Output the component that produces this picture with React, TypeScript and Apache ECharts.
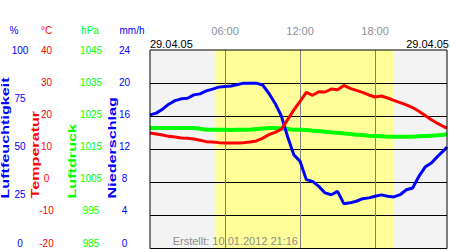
import React, { useEffect, useRef } from "react";
import * as echarts from "echarts";

// ---- data ----
const TIMES = [
  "00:00", "00:30", "01:00", "01:30", "02:00", "02:30", "03:00", "03:30",
  "04:00", "04:30", "05:00", "05:30", "06:00", "06:30", "07:00", "07:30",
  "08:00", "08:30", "09:00", "09:30", "10:00", "10:30", "11:00", "11:30",
  "12:00", "12:30", "13:00", "13:30", "14:00", "14:30", "15:00", "15:30",
  "16:00", "16:30", "17:00", "17:30", "18:00", "18:30", "19:00", "19:30",
  "20:00", "20:30", "21:00", "21:30", "22:00", "22:30", "23:00", "23:30",
  "23:45",
];

const HUMIDITY = [
  67.3, 68.2, 70.2, 72.7, 74.5, 75.4, 75.7, 77.4,
  77.9, 79.4, 80.3, 81.3, 81.6, 81.9, 82.6, 83.3,
  83.3, 83.3, 82.4, 78.2, 73.2, 66.8, 56.4, 47.2,
  43.9, 34.7, 33.8, 31.3, 28.0, 27.1, 28.8, 22.6,
  23.0, 23.8, 25.1, 25.5, 26.3, 27.0, 26.3, 26.0,
  27.1, 29.6, 30.5, 36.3, 41.0, 43.1, 46.4, 49.4,
  51.1,
];

const TEMPERATURE = [
  14.9, 14.6, 14.3, 13.9, 13.7, 13.4, 13.3, 13.1,
  12.7, 12.3, 12.2, 12.0, 11.9, 11.9, 11.9, 12.0,
  12.2, 12.5, 13.3, 14.4, 15.1, 16.1, 18.9, 21.9,
  24.5, 27.2, 26.3, 27.4, 27.3, 28.2, 28.0, 29.3,
  28.4, 27.8, 27.2, 26.4, 25.8, 26.1, 25.5, 24.8,
  24.1, 23.4, 22.6, 21.5, 20.2, 18.9, 17.8, 16.8,
  16.4,
];

const PRESSURE = [
  1021.4, 1021.4, 1021.4, 1021.4, 1021.4, 1021.4, 1021.4, 1021.4,
  1021.2, 1020.9, 1020.9, 1020.9, 1020.9, 1020.8, 1020.9, 1020.9,
  1020.9, 1021.1, 1021.3, 1021.4, 1021.4, 1021.3, 1021.1, 1020.9,
  1020.9, 1020.8, 1020.6, 1020.5, 1020.3, 1020.1, 1020.0, 1019.8,
  1019.6, 1019.4, 1019.3, 1019.1, 1019.0, 1018.9, 1018.8, 1018.8,
  1018.8, 1018.8, 1018.8, 1018.9, 1019.0, 1019.1, 1019.2, 1019.4,
  1019.5,
];

const TIME_LABELS = ["06:00", "12:00", "18:00"];
const DAY_START = "05:11";
const DAY_END = "19:32";
const X_END = "23:45";
const DATE_TEXT = "29.04.05";
const CREATED_TEXT = "Erstellt: 10.01.2012 21:16";

// axis ranges [min, max, interval]
const HUMIDITY_AXIS = [0, 100, 25];
const TEMPERATURE_AXIS = [-20, 40, 10];
const PRESSURE_AXIS = [985, 1045, 10];
const RAIN_AXIS = [0, 24, 4];

const UNITS = ["%", "°C", "hPa", "mm/h"];
const TITLES = ["Luftfeuchtigkeit", "Temperatur", "Luftdruck", "Niederschlag"];

// ---- helpers ----
const toHours = (t: string) => {
  const [h, m] = t.split(":").map(Number);
  return h + m / 60;
};
const pairs = (vals: number[]) => TIMES.map((t, i) => [toHours(t), vals[i]]);

const BLUE = "#0000ff";
const RED = "#ff0000";
const GREEN = "#00ff00";
const FONT = "'Liberation Sans', Arial, sans-serif";

const labelAxis = (range: number[], offset: number, color: string) => ({
  gridIndex: 1,
  type: "value",
  position: "left",
  offset,
  min: range[0],
  max: range[1],
  interval: range[2],
  axisLine: { show: false },
  axisTick: { show: false },
  splitLine: { show: false },
  axisLabel: {
    align: "center",
    margin: 0,
    color,
    fontSize: 10,
    fontFamily: FONT,
    formatter: (v: number) => String(v),
  },
});

const buildOption = () => {
  const gray = "#f3f3f3";
  const yellow = "#ffff99";
  const dayStart = toHours(DAY_START);
  const dayEnd = toHours(DAY_END);
  const xEnd = toHours(X_END);

  const unitX = [14, 46.5, 90, 132];
  const unitColors = [BLUE, RED, GREEN, BLUE];
  const titleX = [5.5, 35, 72.5, 112.5];
  const titleColors = [BLUE, RED, GREEN, BLUE];

  const graphic: any[] = [];
  UNITS.forEach((u, i) =>
    graphic.push({
      type: "text",
      x: unitX[i],
      y: 30,
      style: {
        text: u,
        fill: unitColors[i],
        fontSize: 10,
        fontFamily: FONT,
        align: "center",
        verticalAlign: "middle",
      },
    })
  );
  TITLES.forEach((t, i) =>
    graphic.push({
      type: "text",
      x: titleX[i],
      y: 198.5,
      rotation: Math.PI / 2,
      scaleX: 1.47,
      style: {
        text: t,
        fill: titleColors[i],
        fontSize: 11,
        fontWeight: "bold",
        fontFamily: FONT,
        align: "left",
        verticalAlign: "middle",
      },
    })
  );
  graphic.push(
    {
      type: "text",
      x: 150,
      y: 44,
      style: { text: DATE_TEXT, fill: "#000", fontSize: 11, fontFamily: FONT, align: "left", verticalAlign: "middle" },
    },
    {
      type: "text",
      x: 449,
      y: 44,
      style: { text: DATE_TEXT, fill: "#000", fontSize: 11, fontFamily: FONT, align: "right", verticalAlign: "middle" },
    },
    {
      type: "text",
      x: 298,
      y: 241,
      z: 10,
      style: { text: CREATED_TEXT, fill: "#8c8c8c", fontSize: 11, fontFamily: FONT, align: "right", verticalAlign: "middle" },
    }
  );

  return {
    animation: false,
    backgroundColor: "#ffffff",
    textStyle: { fontFamily: FONT },
    grid: [
      {
        left: 150,
        right: 1,
        top: 50,
        bottom: 1.5,
        show: true,
        backgroundColor: "transparent",
        borderColor: "#000",
        borderWidth: 1,
        z: 3,
      },
      { left: 150, right: 1, top: 50, bottom: 7, show: false },
    ],
    xAxis: [
      {
        gridIndex: 0,
        type: "value",
        position: "top",
        min: 0,
        max: xEnd,
        interval: 6,
        z: 1.5,
        axisLine: { show: false },
        axisTick: { show: false },
        axisLabel: {
          margin: 14,
          color: "#8a919b",
          fontSize: 11,
          fontFamily: FONT,
          formatter: (v: number) => {
            const s = String(Math.round(v)).padStart(2, "0") + ":00";
            return Math.abs(v - Math.round(v)) < 1e-6 && TIME_LABELS.includes(s) ? s : "";
          },
        },
        splitLine: {
          show: true,
          showMinLine: false,
          showMaxLine: false,
          lineStyle: { color: "#808080", width: 1 },
        },
      },
      { gridIndex: 1, type: "value", show: false, min: 0, max: 1 },
    ],
    yAxis: [
      {
        gridIndex: 0,
        type: "value",
        min: TEMPERATURE_AXIS[0],
        max: TEMPERATURE_AXIS[1],
        interval: TEMPERATURE_AXIS[2],
        z: 1.5,
        axisLine: { show: false },
        axisTick: { show: false },
        axisLabel: { show: false },
        splitLine: {
          show: true,
          showMinLine: false,
          showMaxLine: false,
          lineStyle: { color: "#000", width: 1 },
        },
      },
      {
        gridIndex: 0,
        type: "value",
        min: HUMIDITY_AXIS[0],
        max: HUMIDITY_AXIS[1],
        show: false,
      },
      {
        gridIndex: 0,
        type: "value",
        min: PRESSURE_AXIS[0],
        max: PRESSURE_AXIS[1],
        show: false,
      },
      labelAxis(HUMIDITY_AXIS, 130, BLUE),
      labelAxis(TEMPERATURE_AXIS, 103.5, RED),
      labelAxis(PRESSURE_AXIS, 59, GREEN),
      labelAxis(RAIN_AXIS, 25.5, BLUE),
    ],
    graphic,
    series: [
      {
        name: "Luftdruck",
        type: "line",
        xAxisIndex: 0,
        yAxisIndex: 2,
        data: pairs(PRESSURE),
        showSymbol: false,
        symbol: "none",
        lineStyle: { color: GREEN, width: 4 },
        itemStyle: { color: GREEN },
        z: 2,
        markArea: {
          silent: true,
          z: 1,
          data: [
            [{ xAxis: 0, itemStyle: { color: gray } }, { xAxis: dayStart }],
            [{ xAxis: dayStart, itemStyle: { color: yellow } }, { xAxis: dayEnd }],
            [{ xAxis: dayEnd, itemStyle: { color: gray } }, { xAxis: xEnd }],
          ],
        },
      },
      {
        name: "Luftfeuchtigkeit",
        type: "line",
        xAxisIndex: 0,
        yAxisIndex: 1,
        data: pairs(HUMIDITY),
        showSymbol: false,
        symbol: "none",
        lineStyle: { color: BLUE, width: 3 },
        itemStyle: { color: BLUE },
        z: 2,
      },
      {
        name: "Temperatur",
        type: "line",
        xAxisIndex: 0,
        yAxisIndex: 0,
        data: pairs(TEMPERATURE),
        showSymbol: false,
        symbol: "none",
        lineStyle: { color: RED, width: 3 },
        itemStyle: { color: RED },
        z: 2,
      },
    ],
  };
};

export default function App() {
  const ref = useRef<HTMLDivElement>(null);
  useEffect(() => {
    if (!ref.current) return;
    const chart = echarts.init(ref.current, null, { renderer: "svg" });
    chart.setOption(buildOption() as any);
    return () => chart.dispose();
  }, []);
  return (
    <div
      ref={ref}
      style={{ position: "fixed", left: 0, top: 0, width: 450, height: 250, background: "#fff" }}
    />
  );
}
